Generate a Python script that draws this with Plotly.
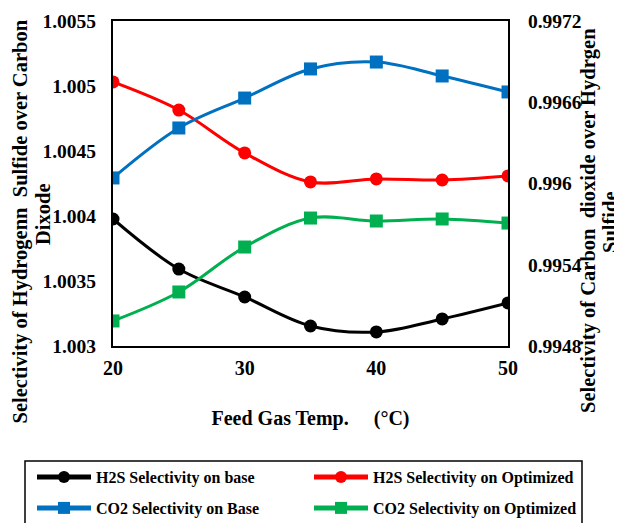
import plotly.graph_objects as go

temps = [20, 25, 30, 35, 40, 45, 50]
h2s_base = [1.003977, 1.003592, 1.003377, 1.003154, 1.003108, 1.003208, 1.003331]
h2s_opt = [1.005031, 1.004815, 1.004485, 1.004262, 1.004285, 1.004277, 1.004308]
co2_base = [0.996041, 0.996410, 0.996631, 0.996846, 0.996897, 0.996794, 0.996676]
co2_opt = [0.994985, 0.995199, 0.995531, 0.995745, 0.995723, 0.995738, 0.995708]

left_ticks = [1.003, 1.0035, 1.004, 1.0045, 1.005, 1.0055]
left_labels = ["1.003", "1.0035", "1.004", "1.0045", "1.005", "1.0055"]
right_ticks = [0.9948, 0.9954, 0.9960, 0.9966, 0.9972]
right_labels = ["0.9948", "0.9954", "0.996", "0.9966", "0.9972"]
x_ticks = [20, 30, 40, 50]

left_title = ["<b>Selectivity of Hydrogenn&nbsp; Sulfide over Carbon</b>", "<b>Dixode</b>"]
right_title = ["<b>Selectivity of Carbon&nbsp; dioxide over Hydrgen</b>", "<b>Sulfide</b>"]
x_title = "<b>Feed Gas Temp.&nbsp;&nbsp;&nbsp;&nbsp; (°C)</b>"

FONT = "Liberation Serif"
# page is offset by the 8px body margin, so the figure is 8px smaller than the window
W, H = 614, 515
L, T, PW, PH = 105, 13, 395, 325


def px(xf):
    return (xf - L) / PW


def py(yf):
    return (T + PH - yf) / PH


fig = go.Figure()
fig.add_trace(go.Scatter(x=temps, y=h2s_base, name="H2S Selectivity on base", legend="legend",
                         mode="lines+markers", line=dict(color="#000000", width=3, shape="spline"),
                         marker=dict(symbol="circle", size=13, color="#000000"), yaxis="y"))
fig.add_trace(go.Scatter(x=temps, y=h2s_opt, name="H2S Selectivity on Optimized", legend="legend2",
                         mode="lines+markers", line=dict(color="#FF0000", width=3, shape="spline"),
                         marker=dict(symbol="circle", size=13, color="#FF0000"), yaxis="y"))
fig.add_trace(go.Scatter(x=temps, y=co2_base, name="CO2 Selectivity on Base", legend="legend3",
                         mode="lines+markers", line=dict(color="#0070C0", width=3, shape="spline"),
                         marker=dict(symbol="square", size=13, color="#0070C0"), yaxis="y2"))
fig.add_trace(go.Scatter(x=temps, y=co2_opt, name="CO2 Selectivity on Optimized", legend="legend4",
                         mode="lines+markers", line=dict(color="#00B050", width=3, shape="spline"),
                         marker=dict(symbol="square", size=13, color="#00B050"), yaxis="y2"))

lg = dict(orientation="h", xref="container", yref="container",
          xanchor="left", yanchor="middle", borderwidth=0, bgcolor="rgba(0,0,0,0)",
          font=dict(family=FONT, size=16, color="black", weight="bold"),
          itemwidth=54, itemsizing="constant")

col1_x, col2_x = 24, 301
row1_y, row2_y = 469, 500

title_font = dict(family=FONT, size=20.5, color="black")
annotations = [
    dict(text=left_title[0], x=px(12.5), y=py(214), textangle=-90),
    dict(text=left_title[1], x=px(35), y=py(206), textangle=-90),
    dict(text=right_title[0], x=px(580), y=py(213), textangle=-90),
    dict(text=right_title[1], x=px(602), y=py(214), textangle=-90),
]
for a in annotations:
    a.update(xref="paper", yref="paper", xanchor="center", yanchor="middle",
             showarrow=False, font=title_font, borderpad=0)

fig.update_layout(
    width=W, height=H,
    margin=dict(l=L, r=W - L - PW, t=T, b=H - T - PH),
    paper_bgcolor="white", plot_bgcolor="white",
    font=dict(family=FONT, size=16, color="black"),
    showlegend=True,
    legend=dict(lg, x=col1_x / W, y=1 - row1_y / H),
    legend2=dict(lg, x=col2_x / W, y=1 - row1_y / H),
    legend3=dict(lg, x=col1_x / W, y=1 - row2_y / H),
    legend4=dict(lg, x=col2_x / W, y=1 - row2_y / H),
    annotations=annotations,
    shapes=[dict(type="rect", xref="paper", yref="paper",
                 x0=px(17), x1=px(574), y0=py(540), y1=py(453),
                 line=dict(color="black", width=1.5), fillcolor="rgba(0,0,0,0)", layer="above")],
    xaxis=dict(range=[20, 50], tickvals=x_ticks, ticks="", showgrid=False, zeroline=False,
               showline=True, linecolor="black", linewidth=2, mirror=True, automargin=False,
               ticklabelstandoff=3,
               tickfont=dict(family=FONT, size=20, color="black", weight="bold"),
               title=dict(text=x_title, font=dict(family=FONT, size=20), standoff=33)),
    yaxis=dict(range=[1.003, 1.0055], tickvals=left_ticks, ticktext=left_labels,
               ticks="outside", ticklen=11, tickcolor="rgba(0,0,0,0)",
               showgrid=False, zeroline=False, showline=True, linecolor="black", linewidth=2,
               automargin=False,
               tickfont=dict(family=FONT, size=19.5, color="black", weight="bold")),
    yaxis2=dict(range=[0.9948, 0.9972], tickvals=right_ticks, ticktext=right_labels,
                overlaying="y", side="right", anchor="x", ticks="outside", ticklen=14,
                tickcolor="rgba(0,0,0,0)",
                showgrid=False, zeroline=False, showline=True, linecolor="black", linewidth=2,
                automargin=False,
                tickfont=dict(family=FONT, size=19.5, color="black", weight="bold")),
    yaxis3=dict(range=[0.9948, 0.9972], tickvals=right_ticks, showticklabels=False,
                overlaying="y", side="right", anchor="x", ticks="outside", ticklen=5,
                tickwidth=1.5, tickcolor="black",
                showgrid=False, zeroline=False, showline=False, automargin=False),
)

fig.write_html("out.html")
